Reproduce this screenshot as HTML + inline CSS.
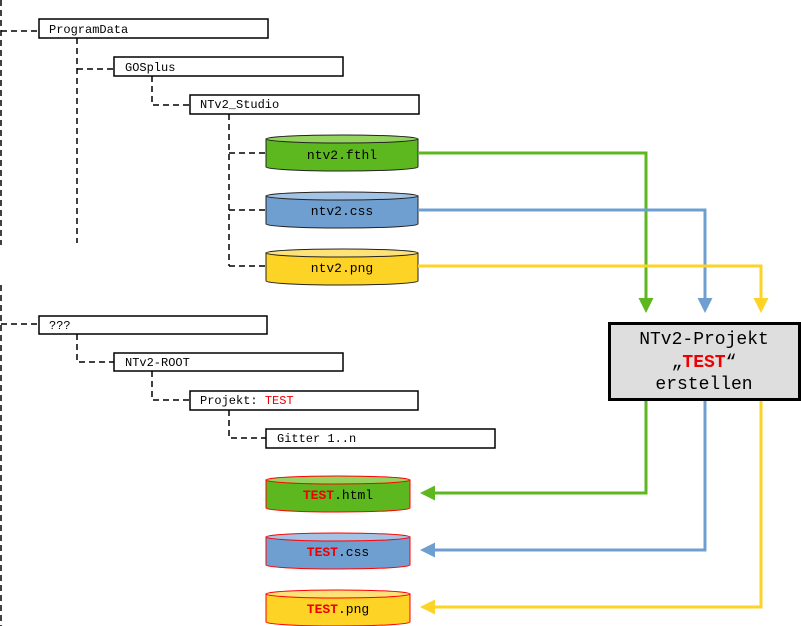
<!DOCTYPE html>
<html><head><style>body{margin:0;background:#fff}svg{display:block}</style></head><body>
<svg width="801" height="626" xmlns="http://www.w3.org/2000/svg" font-family="'Liberation Mono',monospace">
<defs>
<marker id="ag" markerWidth="5" markerHeight="5" refX="4" refY="2.5" orient="auto" markerUnits="strokeWidth"><path d="M0,0L5,2.5L0,5Z" fill="#5cb81e"/></marker>
<marker id="ab" markerWidth="5" markerHeight="5" refX="4" refY="2.5" orient="auto" markerUnits="strokeWidth"><path d="M0,0L5,2.5L0,5Z" fill="#6f9fd0"/></marker>
<marker id="ay" markerWidth="5" markerHeight="5" refX="4" refY="2.5" orient="auto" markerUnits="strokeWidth"><path d="M0,0L5,2.5L0,5Z" fill="#fdd326"/></marker>
</defs>
<g stroke="#000" stroke-width="1.5" stroke-dasharray="6,4" fill="none">
<path d="M1,0V245M1,285V626"/>
<path d="M1,31H39M77,38V243M77,69H114M152,76V105H190M229,114V266M229,153H266M229,210H266M229,266H266"/>
<path d="M1,324H39M77,334V362H114M152,371V400H190M229,410V438H266"/>
</g>
<g fill="#fff" stroke="#000" stroke-width="1.5">
<rect x="39" y="19" width="229" height="19"/>
<rect x="114" y="57" width="229" height="19"/>
<rect x="190" y="95" width="229" height="19"/>
<rect x="39" y="316" width="228" height="18"/>
<rect x="114" y="353" width="229" height="18"/>
<rect x="190" y="391" width="228" height="19"/>
<rect x="266" y="429" width="229" height="19"/>
</g>
<g font-size="12" fill="#000">
<text x="49" y="33">ProgramData</text>
<text x="125" y="71">GOSplus</text>
<text x="200" y="108">NTv2_Studio</text>
<text x="49" y="329">???</text>
<text x="125" y="366">NTv2-ROOT</text>
<text x="200" y="404">Projekt: <tspan fill="#e00">TEST</tspan></text>
<text x="277" y="442">Gitter 1..n</text>
</g>
<g stroke="#222" stroke-width="1">
<path d="M266,139V167A76,4 0 0 0 418,167V139Z" fill="#5cb81e"/><ellipse cx="342" cy="139" rx="76" ry="4" fill="#95d35f"/>
<path d="M266,196V224A76,4 0 0 0 418,224V196Z" fill="#6f9fd0"/><ellipse cx="342" cy="196" rx="76" ry="4" fill="#a3c2e4"/>
<path d="M266,253V281A76,4 0 0 0 418,281V253Z" fill="#fdd326"/><ellipse cx="342" cy="253" rx="76" ry="4" fill="#fde27a"/>
</g>
<g font-size="13" fill="#000" text-anchor="middle">
<text x="342" y="159">ntv2.fthl</text>
<text x="342" y="215">ntv2.css</text>
<text x="342" y="272">ntv2.png</text>
</g>
<g stroke="#f00" stroke-width="1">
<path d="M266,480V508A72,4 0 0 0 410,508V480Z" fill="#5cb81e"/><ellipse cx="338" cy="480" rx="72" ry="4" fill="#95d35f"/>
<path d="M266,537V565A72,4 0 0 0 410,565V537Z" fill="#6f9fd0"/><ellipse cx="338" cy="537" rx="72" ry="4" fill="#a3c2e4"/>
<path d="M266,594V622A72,4 0 0 0 410,622V594Z" fill="#fdd326"/><ellipse cx="338" cy="594" rx="72" ry="4" fill="#fde27a"/>
</g>
<g font-size="13" fill="#000" text-anchor="middle">
<text x="338" y="499"><tspan fill="#e00" font-weight="bold">TEST</tspan>.html</text>
<text x="338" y="556"><tspan fill="#e00" font-weight="bold">TEST</tspan>.css</text>
<text x="338" y="613"><tspan fill="#e00" font-weight="bold">TEST</tspan>.png</text>
</g>
<g fill="none" stroke-width="3">
<path d="M418,153H646V310" stroke="#5cb81e" marker-end="url(#ag)"/>
<path d="M418,210H705V310" stroke="#6f9fd0" marker-end="url(#ab)"/>
<path d="M418,266H761V310" stroke="#fdd326" marker-end="url(#ay)"/>
<path d="M646,400V493H423" stroke="#5cb81e" marker-end="url(#ag)"/>
<path d="M705,400V550H423" stroke="#6f9fd0" marker-end="url(#ab)"/>
<path d="M761,400V607H423" stroke="#fdd326" marker-end="url(#ay)"/>
</g>
<rect x="609.5" y="323.5" width="190" height="76" fill="#dedede" stroke="#000" stroke-width="3"/>
<g font-size="18" fill="#000" text-anchor="middle">
<text x="704" y="344">NTv2-Projekt</text>
<text x="704" y="367">„<tspan fill="#e00" font-weight="bold">TEST</tspan>“</text>
<text x="704" y="389">erstellen</text>
</g>
</svg>
</body></html>
